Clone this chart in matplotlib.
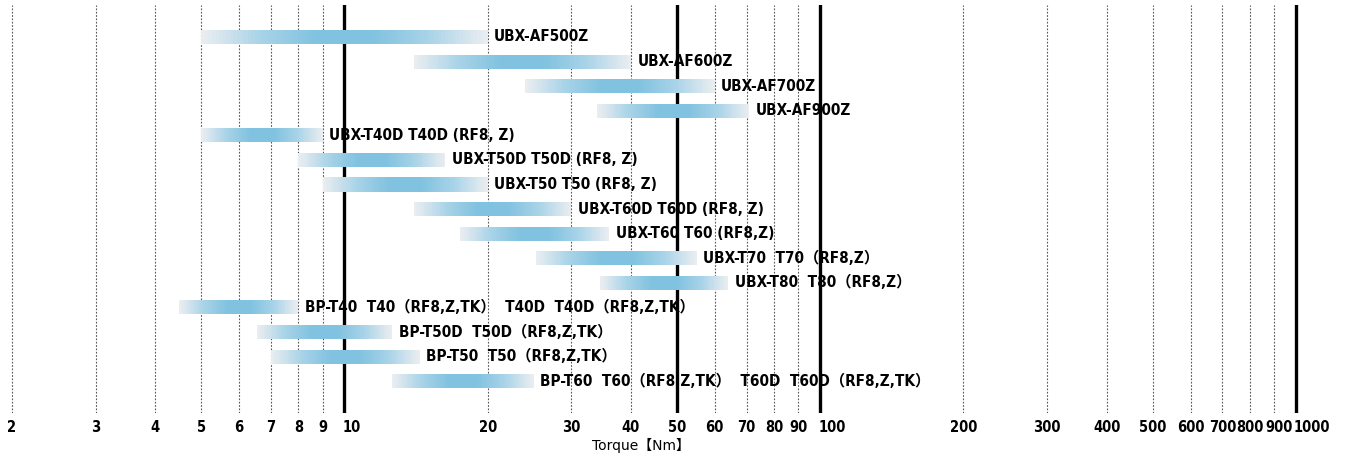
import numpy as np
import matplotlib
matplotlib.use('Agg')
import matplotlib.pyplot as plt
from matplotlib.colors import LinearSegmentedColormap
from matplotlib.transforms import ScaledTranslation

# torque ranges [Nm] per model, top to bottom
labels = [
    'UBX-AF500Z',
    'UBX-AF600Z',
    'UBX-AF700Z',
    'UBX-AF900Z',
    'UBX-T40D T40D (RF8, Z)',
    'UBX-T50D T50D (RF8, Z)',
    'UBX-T50 T50 (RF8, Z)',
    'UBX-T60D T60D (RF8, Z)',
    'UBX-T60 T60 (RF8,Z)',
    'UBX-T70  T70（RF8,Z）',
    'UBX-T80  T80（RF8,Z）',
    'BP-T40  T40（RF8,Z,TK）  T40D  T40D（RF8,Z,TK）',
    'BP-T50D  T50D（RF8,Z,TK）',
    'BP-T50  T50（RF8,Z,TK）',
    'BP-T60  T60（RF8,Z,TK）  T60D  T60D（RF8,Z,TK）',
]
low = [5, 14, 24, 34, 5, 8, 9, 14, 17.5, 25.3, 34.5, 4.5, 6.55, 7, 12.6]
high = [20, 40, 60, 71, 9, 16.3, 20, 30, 36, 55, 64, 8, 12.6, 14.4, 25]

ticks = [2, 3, 4, 5, 6, 7, 8, 9, 10, 20, 30, 40, 50, 60, 70, 80, 90, 100,
         200, 300, 400, 500, 600, 700, 800, 900, 1000]
major = [10, 50, 100, 1000]

fonts = ['DejaVu Sans', 'Noto Sans CJK JP']

cmap = LinearSegmentedColormap.from_list(
    'bar', ['#e9edf0', '#a9d3e8', '#80c2e0', '#80c2e0', '#a9d3e8', '#e9edf0'],
)

fig = plt.figure(figsize=(13.49, 4.58), dpi=100)
ax = fig.add_axes([0, 0.098, 1, 0.891])
ax.set_xscale('log')
ax.set_xlim(1.888, 1292)
ax.set_ylim(15.3, -1.3)

for t in ticks:
    if t in major:
        ax.axvline(t, color='black', lw=2.4, zorder=1)
    else:
        ax.axvline(t, color='#555555', lw=0.8, ls=(0, (1.5, 1.5)), zorder=1)

nseg = 80
for i, (lo, hi, lab) in enumerate(zip(low, high, labels)):
    edges = np.geomspace(lo, hi, nseg + 1)
    cols = cmap(np.linspace(0, 1, nseg))
    ax.barh(i, edges[1:] - edges[:-1], left=edges[:-1], height=0.57,
            color=cols, linewidth=0, antialiased=False, zorder=2)
    ax.text(hi * 1.032, i, lab, va='center', ha='left', fontsize=11,
            fontweight='bold', fontstretch='condensed', family=fonts, zorder=3)

ax.set_xticks(ticks)
ax.set_xticklabels([str(t) for t in ticks], fontsize=10.5, fontweight='bold',
                   fontstretch='condensed', family=fonts)
ax.xaxis.set_minor_locator(matplotlib.ticker.NullLocator())
ax.tick_params(axis='x', length=0, pad=5)

# decade labels sit to the right of their line, as in the original
for t, lab in zip(ticks, ax.get_xticklabels()):
    if t in (10, 100, 1000):
        lab.set_ha('left')
        lab.set_transform(lab.get_transform() + ScaledTranslation(-2 / 100, 0, fig.dpi_scale_trans))
    elif t == 900:
        lab.set_transform(lab.get_transform() + ScaledTranslation(5 / 100, 0, fig.dpi_scale_trans))

ax.set_yticks([])
for s in ax.spines.values():
    s.set_visible(False)

fig.text(0.475, 0.028, 'Torque【Nm】', ha='center', va='center', fontsize=10,
         family=fonts)

fig.savefig('out.png', dpi=100)
